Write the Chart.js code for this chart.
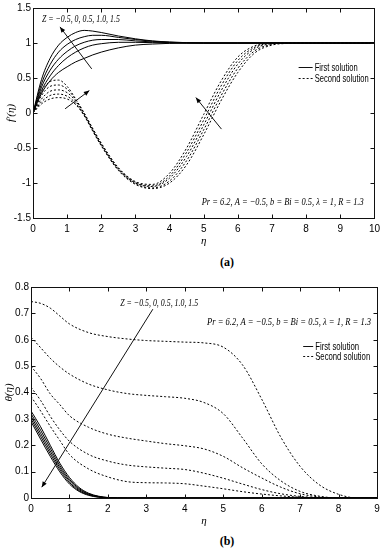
<!DOCTYPE html>
<html>
<head>
<meta charset="utf-8">
<script src="https://cdn.jsdelivr.net/npm/chart.js@4.4.1/dist/chart.umd.min.js"></script>
<style>
  body { margin: 0; background: #fff; width: 385px; height: 550px; position: relative; overflow: hidden; }
  canvas { position: absolute; left: 0; }
  #ca { top: 0; }
  #cb { top: 275px; }
  .tag { position: absolute; font: bold 12px 'Liberation Serif', serif; transform: translateX(-50%); color: #000; }
</style>
</head>
<body>
<canvas id="ca" width="385" height="250" style="width:385px;height:250px"></canvas>
<canvas id="cb" width="385" height="255" style="width:385px;height:255px"></canvas>
<div class="tag" style="left:227px;top:255px">(a)</div>
<div class="tag" style="left:227px;top:534px">(b)</div>
<script>
// ---- data, panel (a): f'(eta) ----
const zLabels = ['-0.5', '0', '0.5', '1.0', '1.5'];
const seriesNames = ['First solution', 'Second solution'];

const etaA1 = [0, 0.25, 0.5, 0.75, 1, 1.25, 1.5, 1.75, 2, 2.5, 3, 3.5, 4, 5, 6, 7, 8, 9, 10];
const fA1_zm05 = [0, 0.28, 0.46, 0.58, 0.66, 0.73, 0.78, 0.83, 0.87, 0.93, 0.97, 0.985, 0.995, 1, 1, 1, 1, 1, 1];
const fA1_z0   = [0, 0.32, 0.53, 0.68, 0.79, 0.87, 0.93, 0.97, 0.99, 1.01, 1.01, 1.005, 1.0, 1, 1, 1, 1, 1, 1];
const fA1_z05  = [0, 0.37, 0.61, 0.77, 0.88, 0.96, 1.01, 1.04, 1.05, 1.05, 1.03, 1.015, 1.005, 1, 1, 1, 1, 1, 1];
const fA1_z10  = [0, 0.42, 0.69, 0.87, 0.98, 1.05, 1.09, 1.11, 1.11, 1.08, 1.05, 1.025, 1.01, 1, 1, 1, 1, 1, 1];
const fA1_z15  = [0, 0.48, 0.78, 0.97, 1.08, 1.15, 1.18, 1.17, 1.15, 1.10, 1.06, 1.03, 1.015, 1, 1, 1, 1, 1, 1];

const etaA2 = [0, 0.25, 0.5, 0.75, 1, 1.25, 1.5, 1.75, 2, 2.5, 3, 3.5, 4, 4.5, 5, 5.5, 6, 6.5, 7, 7.5, 8, 9, 10];
const fA2_zm05 = [0, 0.13, 0.20, 0.22, 0.20, 0.12, -0.04, -0.26, -0.47, -0.82, -1.02, -1.08, -1.00, -0.74, -0.31, 0.17, 0.58, 0.86, 0.97, 0.995, 1, 1, 1];
const fA2_z0   = [0, 0.16, 0.25, 0.27, 0.24, 0.14, -0.03, -0.25, -0.46, -0.81, -1.01, -1.07, -0.97, -0.68, -0.24, 0.24, 0.64, 0.89, 0.98, 1, 1, 1, 1];
const fA2_z05  = [0, 0.20, 0.31, 0.33, 0.29, 0.17, -0.02, -0.24, -0.45, -0.80, -1.00, -1.05, -0.93, -0.62, -0.17, 0.31, 0.70, 0.92, 0.99, 1, 1, 1, 1];
const fA2_z10  = [0, 0.25, 0.38, 0.40, 0.34, 0.19, -0.01, -0.23, -0.44, -0.79, -0.99, -1.04, -0.90, -0.56, -0.10, 0.38, 0.75, 0.94, 0.995, 1, 1, 1, 1];
const fA2_z15  = [0, 0.30, 0.45, 0.47, 0.38, 0.20, 0.00, -0.22, -0.43, -0.78, -0.98, -1.02, -0.86, -0.50, -0.02, 0.45, 0.80, 0.96, 1, 1, 1, 1, 1];

const aXTicks = [0, 1, 2, 3, 4, 5, 6, 7, 8, 9, 10];
const aYTicks = [-1.5, -1, -0.5, 0, 0.5, 1, 1.5];

// ---- data, panel (b): theta(eta) ----
const etaB1 = [0, 0.25, 0.5, 0.75, 1, 1.25, 1.5, 1.75, 2, 2.5, 9];
const tB1_zm05 = [0.33, 0.27, 0.20, 0.132, 0.078, 0.040, 0.018, 0.007, 0.002, 0, 0];
const tB1_z0   = [0.32, 0.257, 0.189, 0.123, 0.071, 0.036, 0.016, 0.006, 0.0015, 0, 0];
const tB1_z05  = [0.31, 0.245, 0.178, 0.115, 0.065, 0.032, 0.014, 0.005, 0.001, 0, 0];
const tB1_z10  = [0.30, 0.234, 0.168, 0.107, 0.059, 0.028, 0.012, 0.004, 0.001, 0, 0];
const tB1_z15  = [0.29, 0.223, 0.158, 0.099, 0.053, 0.025, 0.010, 0.003, 0.0005, 0, 0];

const etaB2 = [0, 0.25, 0.5, 0.75, 1, 1.5, 2, 2.5, 3, 3.5, 4, 4.5, 5, 5.5, 6, 6.5, 7, 7.5, 8, 8.5, 9];
const tB2_zm05 = [0.745, 0.738, 0.72, 0.69, 0.66, 0.627, 0.612, 0.603, 0.597, 0.594, 0.591, 0.588, 0.572, 0.505, 0.375, 0.23, 0.12, 0.05, 0.014, 0, 0];
const tB2_z0   = [0.61, 0.57, 0.53, 0.497, 0.47, 0.432, 0.41, 0.396, 0.389, 0.384, 0.378, 0.362, 0.32, 0.228, 0.13, 0.065, 0.025, 0.007, 0, 0, 0];
const tB2_z05  = [0.50, 0.453, 0.395, 0.354, 0.312, 0.268, 0.242, 0.227, 0.216, 0.206, 0.198, 0.186, 0.158, 0.115, 0.076, 0.041, 0.016, 0.004, 0, 0, 0];
const tB2_z10  = [0.42, 0.37, 0.31, 0.258, 0.215, 0.165, 0.14, 0.125, 0.118, 0.113, 0.108, 0.094, 0.075, 0.053, 0.032, 0.016, 0.006, 0.001, 0, 0, 0];
const tB2_z15  = [0.385, 0.33, 0.272, 0.218, 0.165, 0.11, 0.08, 0.062, 0.058, 0.057, 0.054, 0.045, 0.035, 0.024, 0.015, 0.008, 0.003, 0.001, 0, 0, 0];

const bXTicks = [0, 1, 2, 3, 4, 5, 6, 7, 8, 9];
const bYTicks = [0, 0.1, 0.2, 0.3, 0.4, 0.5, 0.6, 0.7, 0.8];

const SANS = "'Liberation Sans Narrow', 'Liberation Sans', Arial, sans-serif";
const SERIF = "'Liberation Serif', 'Times New Roman', serif";
const DASH = [2, 2];

function pts(xs, ys) {
  return xs.map((x, i) => ({ x: x, y: ys[i] }));
}

function lines(xs, list, dash, name) {
  return list.map((ys, i) => ({
    label: name + ' Z=' + zLabels[i],
    data: pts(xs, ys),
    borderColor: '#000',
    borderWidth: 1,
    borderDash: dash,
    pointRadius: 0,
    cubicInterpolationMode: 'monotone',
    fill: false
  }));
}

// text squeezed to the narrow width the original figure uses
function fitText(ctx, text, x, y, w) {
  const s = Math.min(1, w / ctx.measureText(text).width);
  ctx.save();
  ctx.translate(x, y);
  ctx.scale(s, 1);
  ctx.fillText(text, 0, 0);
  ctx.restore();
}

function drawArrow(ctx, x1, y1, x2, y2, head) {
  ctx.beginPath();
  ctx.moveTo(x1, y1);
  ctx.lineTo(x2, y2);
  ctx.stroke();
  if (!head) return;
  const ang = Math.atan2(y2 - y1, x2 - x1);
  ctx.beginPath();
  ctx.moveTo(x2, y2);
  ctx.lineTo(x2 - 6 * Math.cos(ang - 0.4), y2 - 6 * Math.sin(ang - 0.4));
  ctx.lineTo(x2 - 6 * Math.cos(ang + 0.4), y2 - 6 * Math.sin(ang + 0.4));
  ctx.closePath();
  ctx.fill();
}

// box, inward ticks, notes, arrows, legend
const frame = {
  id: 'frame',
  afterDraw(chart, args, o) {
    const { ctx, chartArea: a, scales: { x, y } } = chart;
    const L = Math.round(a.left) + 0.5, R = Math.round(a.right) + 0.5;
    const T = Math.round(a.top) + 0.5, B = Math.round(a.bottom) + 0.5;
    ctx.save();
    ctx.strokeStyle = '#111';
    ctx.fillStyle = '#111';
    ctx.lineWidth = 1;
    ctx.strokeRect(L, T, R - L, B - T);
    ctx.beginPath();
    x.ticks.forEach(t => {
      const p = Math.round(x.getPixelForValue(t.value)) + 0.5;
      ctx.moveTo(p, B); ctx.lineTo(p, B - 4);
      ctx.moveTo(p, T); ctx.lineTo(p, T + 4);
    });
    y.ticks.forEach(t => {
      const p = Math.round(y.getPixelForValue(t.value)) + 0.5;
      ctx.moveTo(L, p); ctx.lineTo(L + 4, p);
      ctx.moveTo(R, p); ctx.lineTo(R - 4, p);
    });
    ctx.stroke();

    ctx.textAlign = 'left';
    ctx.textBaseline = 'middle';
    ctx.fillStyle = '#000';
    ctx.font = 'italic 10.5px ' + SERIF;
    o.notes.forEach(n => fitText(ctx, n.text, x.getPixelForValue(n.x), y.getPixelForValue(n.y), n.w));

    o.arrows.forEach(r => drawArrow(ctx,
      x.getPixelForValue(r.from[0]), y.getPixelForValue(r.from[1]),
      x.getPixelForValue(r.to[0]), y.getPixelForValue(r.to[1]), r.head));

    // legend
    const lg = o.legend;
    ctx.font = '11px ' + SANS;
    seriesNames.forEach((name, i) => {
      const py = Math.round(y.getPixelForValue(lg.y[i])) + 0.5;
      ctx.setLineDash(i ? DASH : []);
      ctx.beginPath();
      ctx.moveTo(x.getPixelForValue(lg.x0), py);
      ctx.lineTo(x.getPixelForValue(lg.x1), py);
      ctx.stroke();
      ctx.setLineDash([]);
      fitText(ctx, name, x.getPixelForValue(lg.x1) + 2, py, lg.w[i]);
    });
    ctx.restore();
  }
};

function axis(min, max, tickList, extra) {
  return Object.assign({
    type: 'linear',
    min: min,
    max: max,
    afterBuildTicks: s => { s.ticks = tickList.map(v => ({ value: v })); },
    grid: { display: false, drawTicks: false },
    border: { display: false },
    ticks: {
      color: '#000',
      font: { family: SANS, size: 10 },
      autoSkip: false,
      maxRotation: 0,
      callback: v => String(v)
    }
  }, extra);
}

function makeChart(id, datasets, xs, ys, opts) {
  const xAxis = axis(xs.min, xs.max, xs.ticks, {
    afterFit: s => { s.height = 32; },
    title: { display: true, text: '\u03b7', color: '#000', font: { family: SERIF, style: 'italic', size: 11 }, padding: { top: 0, bottom: 2 } }
  });
  xAxis.ticks.padding = 5;
  const yAxis = axis(ys.min, ys.max, ys.ticks, {
    afterFit: s => { s.width = ys.width; },
    title: { display: true, text: ys.title, color: '#000', font: { family: SERIF, style: 'italic', size: 11 }, padding: { top: ys.titlePad, bottom: 0 } }
  });
  yAxis.ticks.padding = 2;

  return new Chart(document.getElementById(id), {
    type: 'line',
    data: { datasets: datasets },
    options: {
      responsive: false,
      animation: false,
      devicePixelRatio: 1,
      layout: { padding: opts.pad },
      plugins: { legend: { display: false }, tooltip: { enabled: false }, frame: opts.frame },
      scales: { x: xAxis, y: yAxis }
    },
    plugins: [frame]
  });
}

const PARAMS = 'Pr = 6.2, A = \u22120.5, b = Bi = 0.5, \u03bb = 1, R = 1.3';
const ZTEXT = 'Z = \u22120.5, 0, 0.5, 1.0, 1.5';

makeChart('ca',
  lines(etaA1, [fA1_zm05, fA1_z0, fA1_z05, fA1_z10, fA1_z15], [], seriesNames[0])
    .concat(lines(etaA2, [fA2_zm05, fA2_z0, fA2_z05, fA2_z10, fA2_z15], DASH, seriesNames[1])),
  { min: 0, max: 10, ticks: aXTicks },
  { min: -1.5, max: 1.5, ticks: aYTicks, width: 33, title: 'f\u2032(\u03b7)', titlePad: 5 },
  {
    pad: { top: 8, right: 10, left: 0, bottom: 0 },
    frame: {
      notes: [{ text: ZTEXT, x: 0.26, y: 1.34, w: 78 }, { text: PARAMS, x: 4.94, y: -1.28, w: 162 }],
      arrows: [
        { from: [1.72, 0.63], to: [0.79, 1.23], head: true },
        { from: [0.94, 0.06], to: [1.65, 0.32], head: true },
        { from: [5.52, -0.23], to: [4.77, 0.22], head: true }
      ],
      legend: { x0: 7.78, x1: 8.19, y: [0.654, 0.50], w: [43, 54] }
    }
  });

makeChart('cb',
  lines(etaB1, [tB1_zm05, tB1_z0, tB1_z05, tB1_z10, tB1_z15], [], seriesNames[0])
    .concat(lines(etaB2, [tB2_zm05, tB2_z0, tB2_z05, tB2_z10, tB2_z15], DASH, seriesNames[1])),
  { min: 0, max: 9, ticks: bXTicks },
  { min: 0, max: 0.8, ticks: bYTicks, width: 31, title: '\u03b8(\u03b7)', titlePad: 3 },
  {
    pad: { top: 12, right: 8, left: 0, bottom: 0 },
    frame: {
      notes: [{ text: ZTEXT, x: 2.32, y: 0.739, w: 78 }, { text: PARAMS, x: 4.58, y: 0.666, w: 164 }],
      arrows: [{ from: [3.17, 0.716], to: [0.28, 0.041], head: true }],
      legend: { x0: 7.08, x1: 7.34, y: [0.578, 0.54], w: [44, 55] }
    }
  });
</script>
</body>
</html>
